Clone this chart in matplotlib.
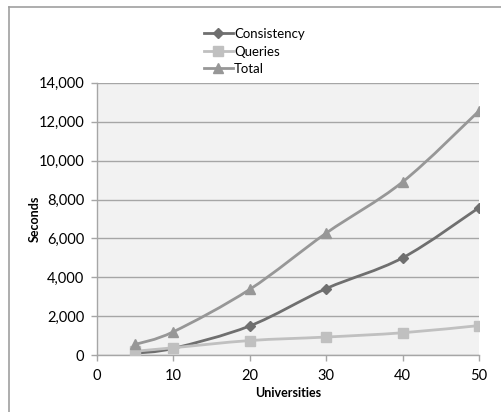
import numpy as np
import matplotlib.pyplot as plt
from matplotlib.path import Path
from matplotlib.patches import PathPatch
from matplotlib.lines import Line2D

plt.rcParams['font.family'] = ['Lato', 'DejaVu Sans']

universities = [5, 10, 20, 30, 40, 50]
consistency = [100, 350, 1500, 3420, 5000, 7580]
queries = [200, 380, 750, 930, 1150, 1520]
total = [550, 1200, 3380, 6270, 8900, 12550]

series = [
    ('Consistency', consistency, '#6f6f6f', 'D', 5),
    ('Queries', queries, '#c0c0c0', 's', 7),
    ('Total', total, '#979797', '^', 7),
]


def smooth_path(xs, ys, t=1 / 6):
    # Catmull-Rom style bezier through the points (like Excel smoothed line)
    xs = np.asarray(xs, float)
    ys = np.asarray(ys, float)
    verts = [(xs[0], ys[0])]
    codes = [Path.MOVETO]
    n = len(xs)
    for i in range(n - 1):
        p0 = np.array([xs[max(i - 1, 0)], ys[max(i - 1, 0)]])
        p1 = np.array([xs[i], ys[i]])
        p2 = np.array([xs[i + 1], ys[i + 1]])
        p3 = np.array([xs[min(i + 2, n - 1)], ys[min(i + 2, n - 1)]])
        c1 = p1 + (p2 - p0) * t
        c2 = p2 - (p3 - p1) * t
        verts += [tuple(c1), tuple(c2), tuple(p2)]
        codes += [Path.CURVE4] * 3
    return Path(verts, codes)


fig = plt.figure(figsize=(5.02, 4.12), dpi=100)
ax = fig.add_axes([0.193, 0.138, 0.761, 0.661])
ax.set_facecolor('#f2f2f2')

handles = []
for name, vals, color, marker, ms in series:
    ax.add_patch(PathPatch(smooth_path(universities, vals), facecolor='none',
                           edgecolor=color, lw=2, zorder=3))
    ax.plot(universities, vals, linestyle='none', marker=marker, ms=ms,
            color=color, zorder=4)
    handles.append(Line2D([], [], color=color, lw=2, marker=marker, ms=ms, label=name))

ax.set_xlim(0, 50)
ax.set_ylim(0, 14000)
ax.set_xticks(range(0, 51, 10))
ax.set_yticks(range(0, 14001, 2000))
ax.set_yticklabels([f'{v:,}' for v in range(0, 14001, 2000)])
ax.grid(axis='y', color='#a6a6a6', lw=1)
ax.set_axisbelow(True)
for s in ['top', 'right']:
    ax.spines[s].set_visible(False)
for s in ['left', 'bottom']:
    ax.spines[s].set_color('#a6a6a6')
    ax.spines[s].set_linewidth(1)
ax.tick_params(colors='#a6a6a6', labelcolor='black', labelsize=10.5, length=4, width=1)
ax.tick_params(axis='y', pad=5)
ax.tick_params(axis='x', pad=6)
ax.set_xlabel('Universities', fontsize=9, fontweight='bold')
ax.set_ylabel('Seconds', fontsize=9, fontweight='bold')
ax.xaxis.set_label_coords(0.5, -0.118)
ax.yaxis.set_label_coords(-0.147, 0.5)

fig.legend(handles=handles, loc='upper left', bbox_to_anchor=(0.393, 0.948),
           frameon=False, fontsize=9.5, handlelength=2.2, handletextpad=0.1,
           labelspacing=0.42, borderpad=0)

# outer chart border (left and top visible)
fig.add_artist(Line2D([0.017, 0.017], [0, 0.983], color='#a0a0a0', lw=1.2))
fig.add_artist(Line2D([0.017, 1.0], [0.983, 0.983], color='#a0a0a0', lw=1.2))

fig.savefig('out.png', dpi=100)
